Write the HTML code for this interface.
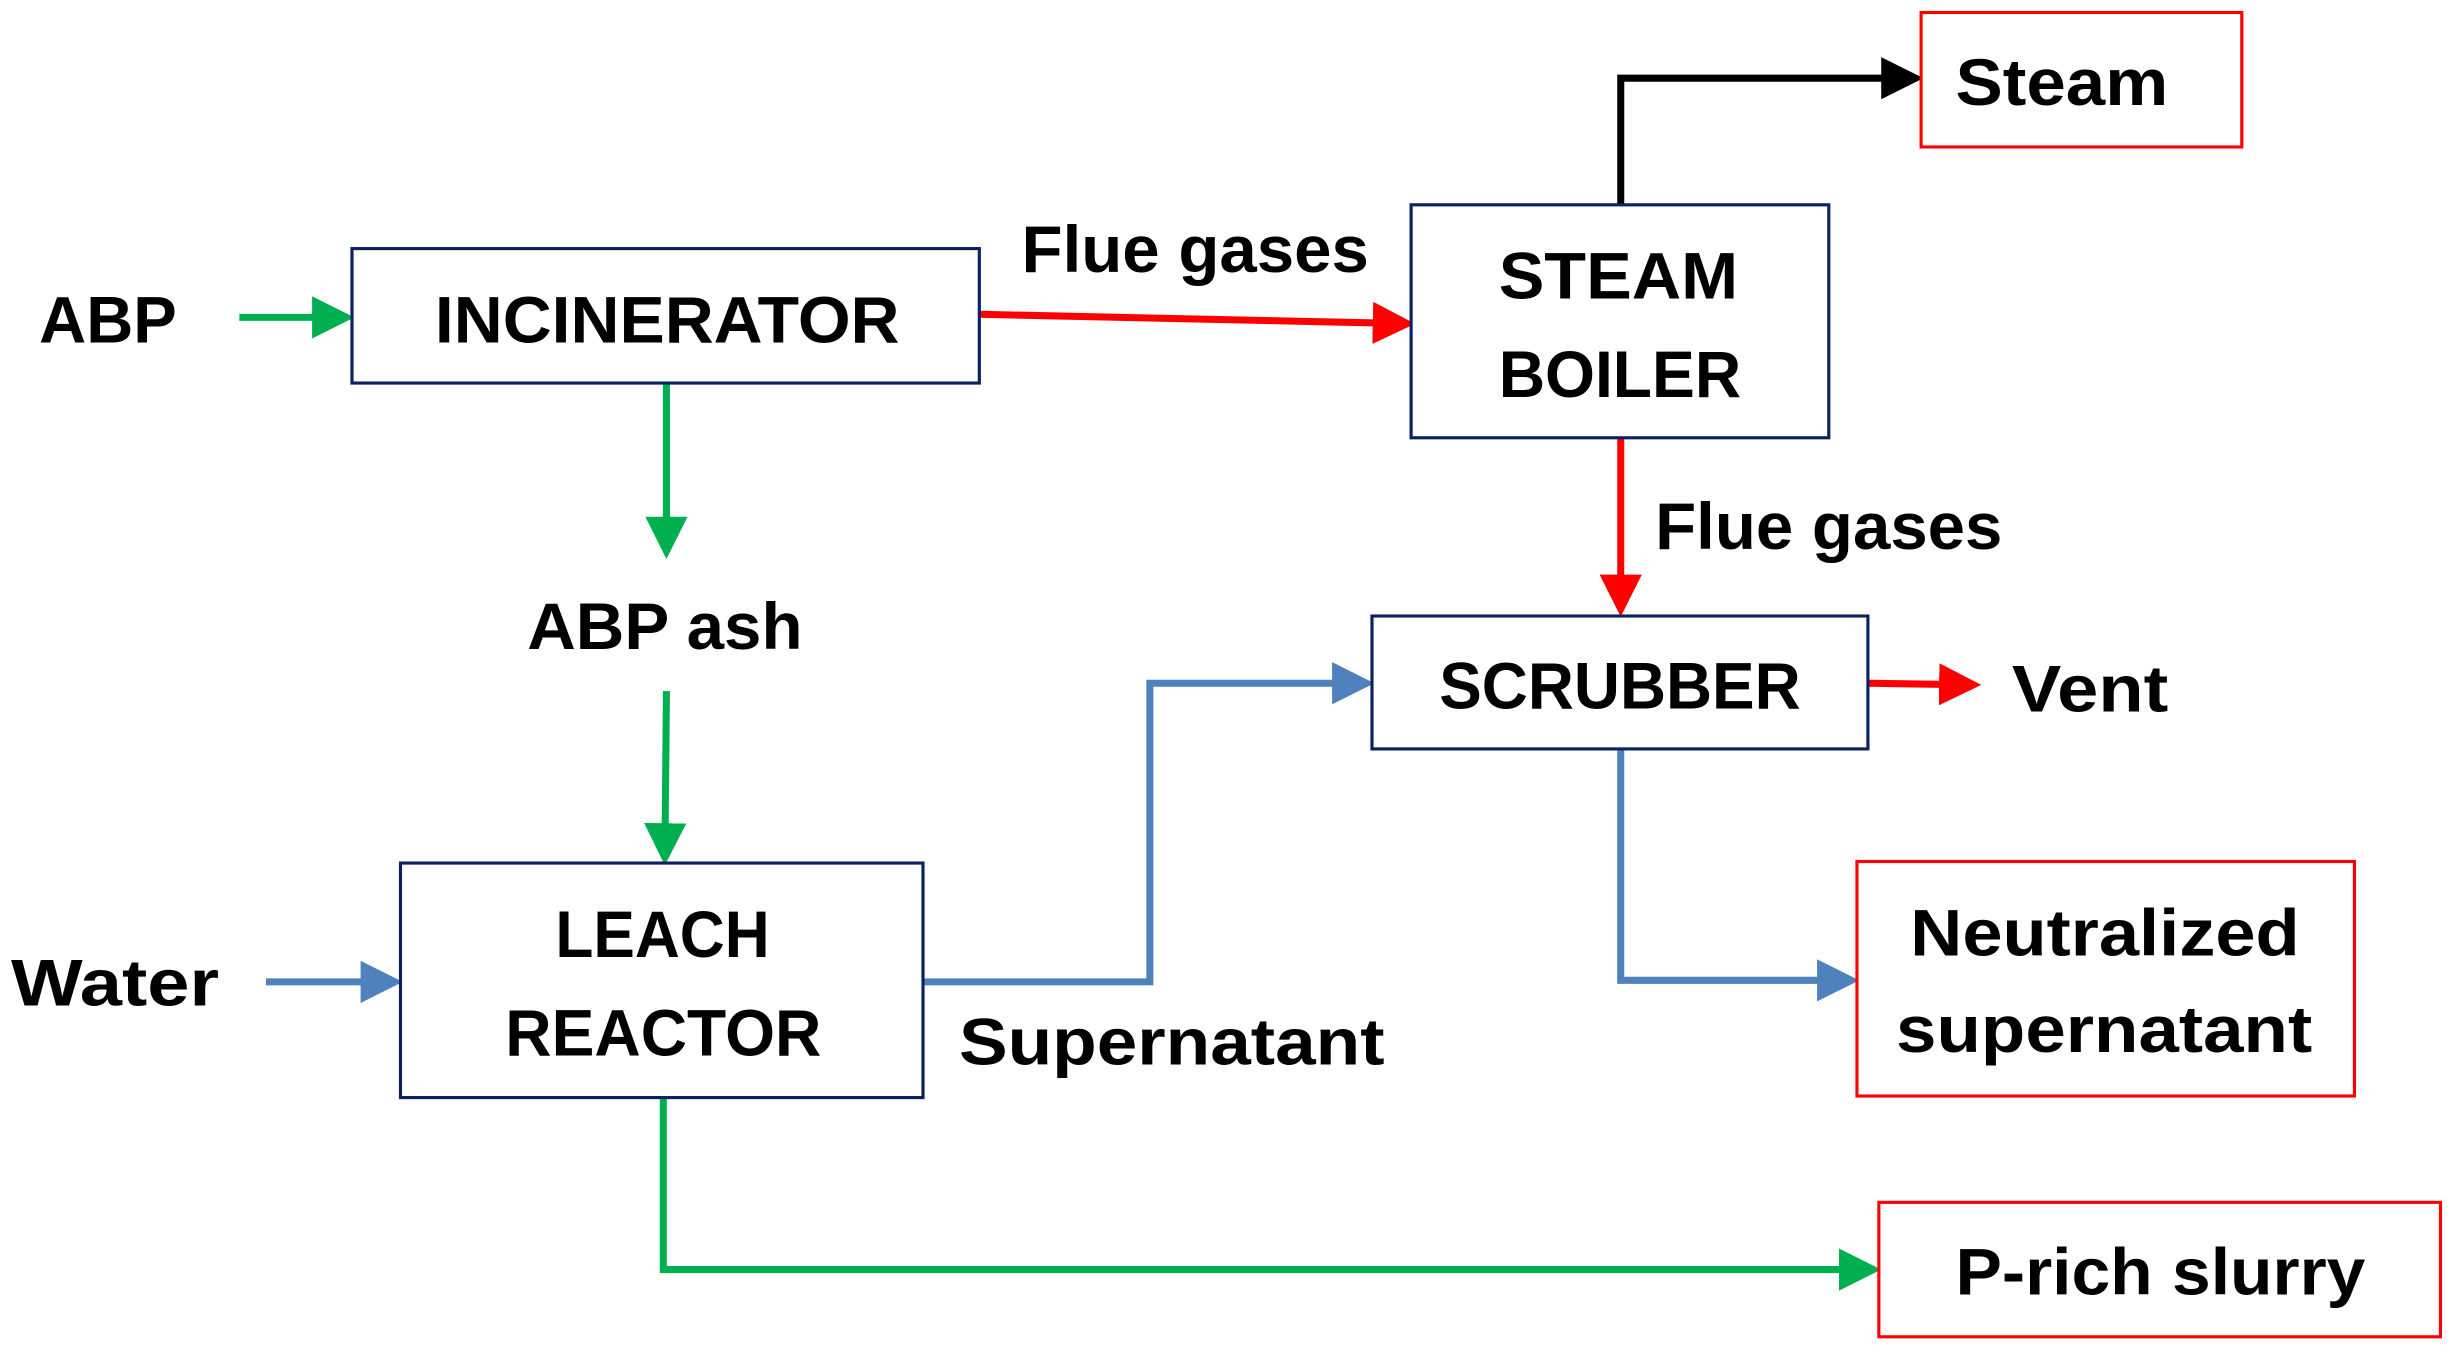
<!DOCTYPE html>
<html><head><style>html,body{margin:0;padding:0;background:#fff}svg{display:block}</style></head><body>
<svg width="2453" height="1354" viewBox="0 0 1568 866" preserveAspectRatio="none" xmlns="http://www.w3.org/2000/svg">
<defs>
<marker id="g" markerWidth="6" markerHeight="6" refX="5" refY="3" orient="auto" markerUnits="strokeWidth"><path d="M0,0L6,3L0,6z" fill="#00b050"/></marker>
<marker id="r" markerWidth="6" markerHeight="6" refX="5" refY="3" orient="auto" markerUnits="strokeWidth"><path d="M0,0L6,3L0,6z" fill="#ff0000"/></marker>
<marker id="b" markerWidth="6" markerHeight="6" refX="5" refY="3" orient="auto" markerUnits="strokeWidth"><path d="M0,0L6,3L0,6z" fill="#4f81bd"/></marker>
<marker id="k" markerWidth="6" markerHeight="6" refX="5" refY="3" orient="auto" markerUnits="strokeWidth"><path d="M0,0L6,3L0,6z" fill="#000"/></marker>
</defs>
<g fill="none" stroke-width="4.5">
<line x1="153" y1="203" x2="222" y2="203" stroke="#00b050" marker-end="url(#g)"/>
<line x1="626" y1="201" x2="900" y2="207" stroke="#ff0000" marker-end="url(#r)"/>
<polyline points="1036,131 1036,50 1225,50" stroke="#000" marker-end="url(#k)"/>
<line x1="1036" y1="280" x2="1036" y2="390" stroke="#ff0000" marker-end="url(#r)"/>
<line x1="1194" y1="437" x2="1262" y2="438" stroke="#ff0000" marker-end="url(#r)"/>
<line x1="426" y1="245" x2="426" y2="353" stroke="#00b050" marker-end="url(#g)"/>
<line x1="426" y1="442" x2="425" y2="549" stroke="#00b050" marker-end="url(#g)"/>
<line x1="170" y1="628" x2="253" y2="628" stroke="#4f81bd" marker-end="url(#b)"/>
<polyline points="590,628 735,628 735,437 874,437" stroke="#4f81bd" marker-end="url(#b)"/>
<polyline points="1036,479 1036,627 1184,627" stroke="#4f81bd" marker-end="url(#b)"/>
<polyline points="424,702 424,812 1198,812" stroke="#00b050" marker-end="url(#g)"/>
</g>
<g fill="#fff" stroke-width="2">
<rect x="225" y="159" width="401" height="86" stroke="#0a2060"/>
<rect x="902" y="131" width="267" height="149" stroke="#0a2060"/>
<rect x="877" y="394" width="317" height="85" stroke="#0a2060"/>
<rect x="256" y="552" width="334" height="150" stroke="#0a2060"/>
<rect x="1228" y="8" width="205" height="86" stroke="#ff0000"/>
<rect x="1187" y="551" width="318" height="150" stroke="#ff0000"/>
<rect x="1201" y="769" width="359" height="86" stroke="#ff0000"/>
</g>
<g font-family="Liberation Sans, sans-serif" font-weight="bold" font-size="42" fill="#000" lengthAdjust="spacingAndGlyphs">
<text x="25" y="219" textLength="88" lengthAdjust="spacingAndGlyphs">ABP</text>
<text x="278" y="219" textLength="297" lengthAdjust="spacingAndGlyphs">INCINERATOR</text>
<text x="653" y="174" textLength="222" lengthAdjust="spacingAndGlyphs">Flue gases</text>
<text x="958" y="191" textLength="153" lengthAdjust="spacingAndGlyphs">STEAM</text>
<text x="958" y="254" textLength="155" lengthAdjust="spacingAndGlyphs">BOILER</text>
<text x="1250" y="67" textLength="136" lengthAdjust="spacingAndGlyphs">Steam</text>
<text x="1058" y="351" textLength="222" lengthAdjust="spacingAndGlyphs">Flue gases</text>
<text x="920" y="453" textLength="231" lengthAdjust="spacingAndGlyphs">SCRUBBER</text>
<text x="1286" y="455" textLength="100" lengthAdjust="spacingAndGlyphs">Vent</text>
<text x="337" y="415" textLength="176" lengthAdjust="spacingAndGlyphs">ABP ash</text>
<text x="355" y="612" textLength="137" lengthAdjust="spacingAndGlyphs">LEACH</text>
<text x="323" y="675" textLength="202" lengthAdjust="spacingAndGlyphs">REACTOR</text>
<text x="7" y="643" textLength="133" lengthAdjust="spacingAndGlyphs">Water</text>
<text x="613" y="681" textLength="272" lengthAdjust="spacingAndGlyphs">Supernatant</text>
<text x="1221" y="611" textLength="249" lengthAdjust="spacingAndGlyphs">Neutralized</text>
<text x="1212" y="673" textLength="266" lengthAdjust="spacingAndGlyphs">supernatant</text>
<text x="1250" y="828" textLength="262" lengthAdjust="spacingAndGlyphs">P-rich slurry</text>
</g>
</svg>
</body></html>
